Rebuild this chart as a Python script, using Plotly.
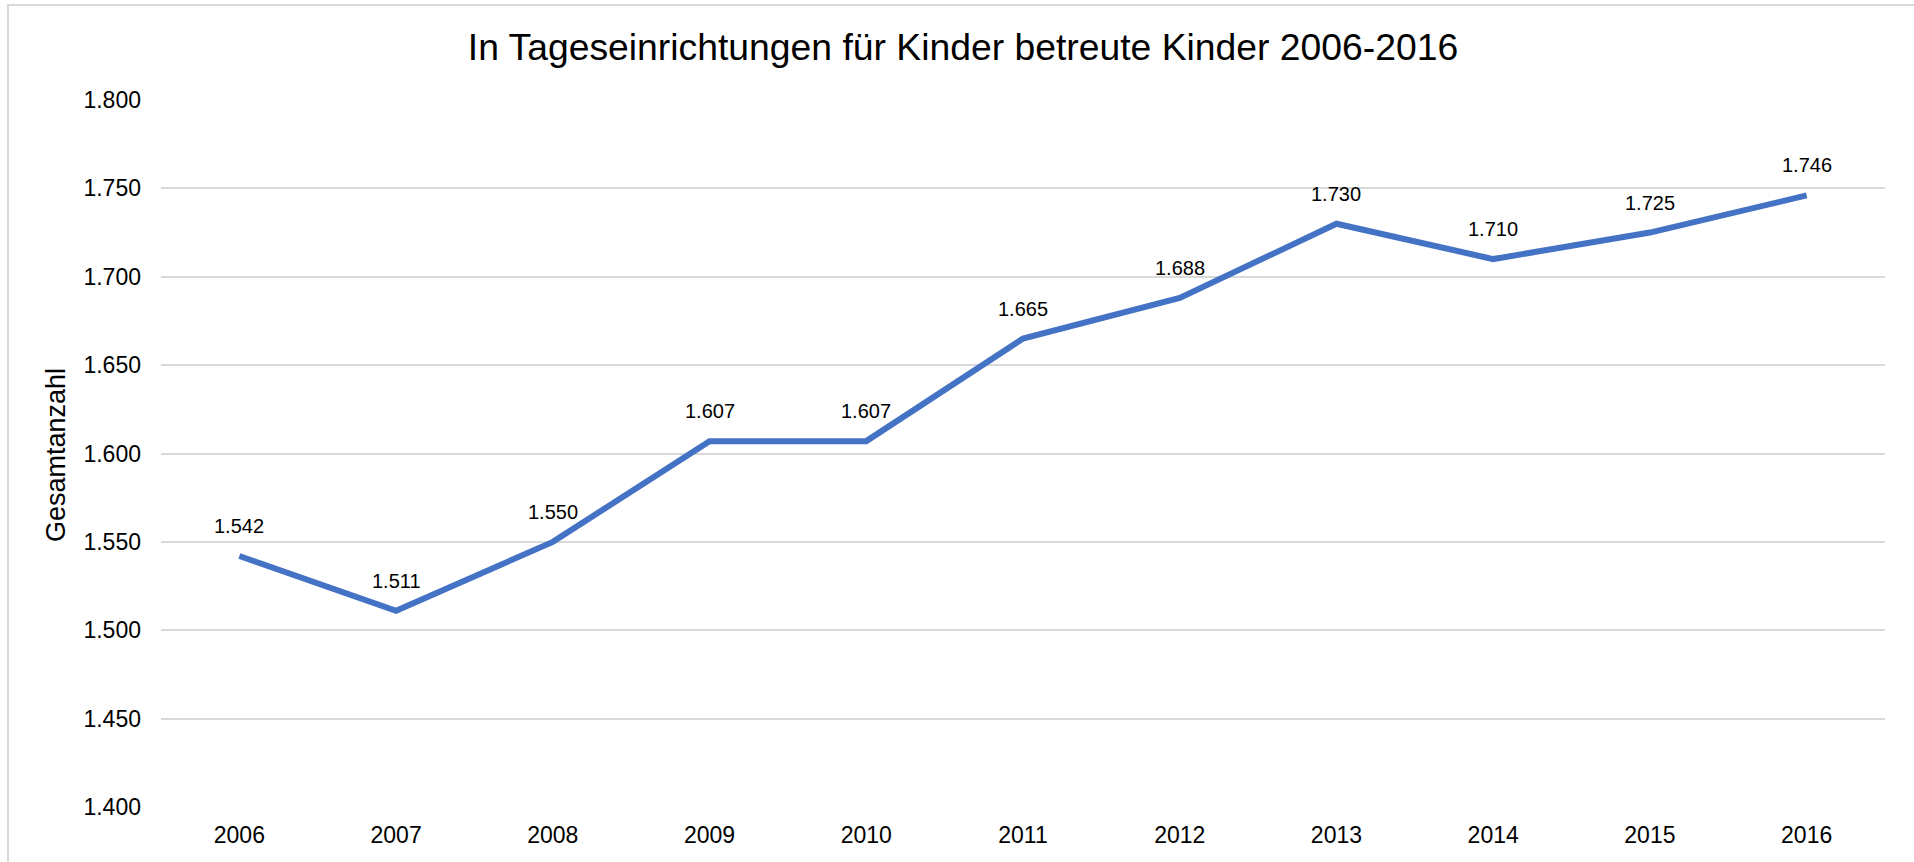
import plotly.graph_objects as go

years = ["2006", "2007", "2008", "2009", "2010", "2011", "2012", "2013", "2014", "2015", "2016"]
kinder = [1542, 1511, 1550, 1607, 1607, 1665, 1688, 1730, 1710, 1725, 1746]
y_ticks = [1400, 1450, 1500, 1550, 1600, 1650, 1700, 1750, 1800]

title_text = "In Tageseinrichtungen für Kinder betreute Kinder 2006-2016"
y_title = "Gesamtanzahl"

W, H = 1914, 862
L, R, T, B = 161, 29, 100, 55
pw, ph = W - L - R, H - T - B

def px_to_paper_x(px):
    return (px - L) / pw

def px_to_paper_y(py):
    return (H - B - py) / ph

FONT = "Liberation Sans, Arial, sans-serif"

fig = go.Figure()
fig.add_trace(go.Scatter(
    x=years, y=kinder,
    mode="lines",
    line=dict(color="#4472C4", width=6, shape="linear"),
    hoverinfo="skip",
    showlegend=False,
))

# category axes take the category index for annotation positions
label_annotations = [
    dict(x=i, y=v, xref="x", yref="y", text=f"{v:,}".replace(",", "."),
         showarrow=False, xanchor="center", yanchor="bottom", yshift=17,
         font=dict(family=FONT, size=20, color="#000000"))
    for i, v in enumerate(kinder)
]

fig.update_layout(
    width=W, height=H,
    margin=dict(l=L, r=R, t=T, b=B, autoexpand=False),
    paper_bgcolor="white", plot_bgcolor="white",
    separators=",.",
    font=dict(family=FONT, color="#000000"),
    title=dict(text=title_text, x=963 / W, xanchor="center",
               y=1 - 47 / H, yanchor="middle", yref="container",
               font=dict(family=FONT, size=37.3, color="#000000")),
    xaxis=dict(type="category", range=[-0.5, 10.5], showgrid=False,
               showline=False, zeroline=False, ticks="",
               tickfont=dict(family=FONT, size=23, color="#000000"),
               ticklabelstandoff=12),
    yaxis=dict(range=[1400, 1800], tickvals=y_ticks, tickformat=",d",
               showgrid=True, gridcolor="#D9D9D9", gridwidth=1.5,
               showline=False, zeroline=False, ticks="",
               tickfont=dict(family=FONT, size=23, color="#000000"),
               ticklabelstandoff=19),
    annotations=[dict(text=y_title, textangle=-90, xref="paper", yref="paper",
                      x=px_to_paper_x(56), y=px_to_paper_y(455),
                      xanchor="center", yanchor="middle", showarrow=False,
                      font=dict(family=FONT, size=27, color="#000000"))] + label_annotations,
    shapes=[dict(type="rect", xref="paper", yref="paper",
                 x0=px_to_paper_x(8), x1=px_to_paper_x(W + 10),
                 y0=px_to_paper_y(H + 10), y1=px_to_paper_y(5),
                 line=dict(color="#D9D9D9", width=2), fillcolor="rgba(0,0,0,0)",
                 layer="below")],
)

fig.write_html("out.html", config={"displayModeBar": False},
               post_script="document.body.style.margin='0';document.body.style.overflow='hidden';")
